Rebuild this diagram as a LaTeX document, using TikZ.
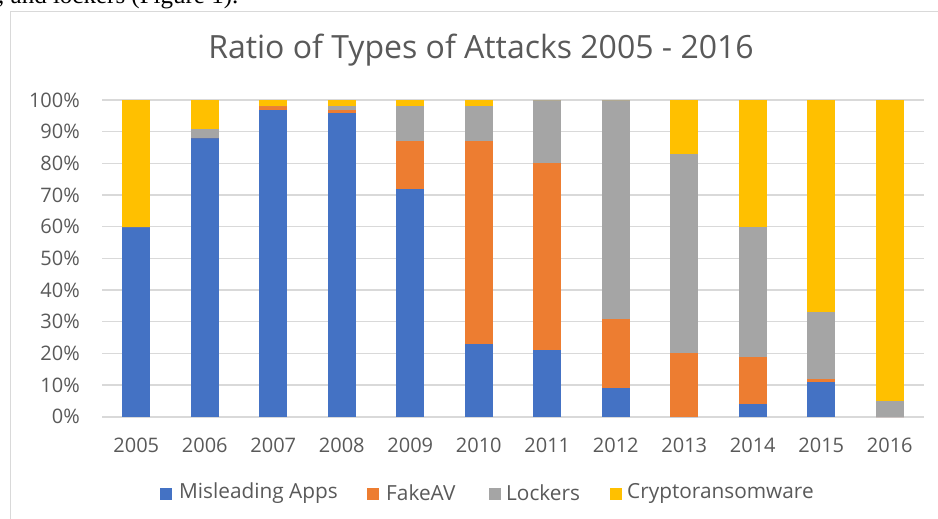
\documentclass[tikz,border=0pt]{standalone}
\usepackage{fontspec}
\setmainfont{Open Sans}
\newfontfamily\serifface{Liberation Serif}
\definecolor{cblue}{HTML}{4472C4}
\definecolor{corange}{HTML}{ED7D31}
\definecolor{cgray}{HTML}{A5A5A5}
\definecolor{cyellow}{HTML}{FFC000}
\definecolor{ctext}{HTML}{595959}
\definecolor{cgrid}{HTML}{D9D9D9}
\tikzset{
  gridline/.style={draw=cgrid, line width=1.6pt},
  framebox/.style={draw=cgrid, line width=1.6pt},
  axlabel/.style={text=ctext, font=\fontsize{20}{24}\selectfont, inner sep=0pt},
  titlelabel/.style={text=ctext, font=\fontsize{32}{38}\selectfont, inner sep=0pt},
  legtext/.style={text=ctext, font=\fontsize{20.8}{24}\selectfont, inner sep=0pt, anchor=west},
  legbox/.style={minimum size=12pt, inner sep=0pt, draw=none},
}
\begin{document}
\begin{tikzpicture}[x=1pt,y=-1pt]
\useasboundingbox (0,0) rectangle (938,519);
% surrounding text, cut off at top
\node[anchor=base west, inner sep=0pt, font=\serifface\fontsize{25}{28}\selectfont] (prev) at (-2,4) {, and lockers (Figure 1).};
% frame
\draw[framebox] (10.5,11.5) rectangle (960,540);
% title
\node[titlelabel] (title) at (481,50) {Ratio of Types of Attacks 2005 - 2016};
% gridlines and y labels
\foreach \k in {0,...,10}{
  \pgfmathsetmacro{\yy}{416.7-31.67*\k}
  \coordinate (gl\k) at (102,\yy);
  \coordinate (gr\k) at (924,\yy);
  \draw[gridline] (gl\k) -- (gr\k);
  \pgfmathtruncatemacro{\pc}{10*\k}
  \node[axlabel, anchor=east] (yl\k) at (80,\yy) {\pc\%};
}
% bars: year, misleading, fakeav, lockers, crypto
\foreach \i/\yr/\ma/\fa/\lo/\cr in {
  0/2005/60/0/0/40,
  1/2006/88/0/3/9,
  2/2007/97/1/0/2,
  3/2008/96/1/1/2,
  4/2009/72/15/11/2,
  5/2010/23/64/11/2,
  6/2011/21/59/20/0,
  7/2012/9/22/69/0,
  8/2013/0/20/63/17,
  9/2014/4/15/41/40,
  10/2015/11/1/21/67,
  11/2016/0/0/5/95}{
  \pgfmathsetmacro{\cx}{102+68.5*(\i+0.5)}
  \pgfmathsetmacro{\ya}{416.7}
  \pgfmathsetmacro{\yb}{416.7-3.167*\ma}
  \pgfmathsetmacro{\yc}{416.7-3.167*(\ma+\fa)}
  \pgfmathsetmacro{\yd}{416.7-3.167*(\ma+\fa+\lo)}
  \pgfmathsetmacro{\ye}{416.7-3.167*(\ma+\fa+\lo+\cr)}
  \fill[cblue]   (\cx-14,\ya) rectangle (\cx+14,\yb);
  \fill[corange] (\cx-14,\yb) rectangle (\cx+14,\yc);
  \fill[cgray]   (\cx-14,\yc) rectangle (\cx+14,\yd);
  \fill[cyellow] (\cx-14,\yd) rectangle (\cx+14,\ye);
  \node[axlabel] (xl\i) at (\cx,445) {\yr};
}
% legend
\node[legbox, fill=cblue] (lb1) at (166,494) {};
\node[legtext] (lt1) at (179,493) {Misleading Apps};
\node[legbox, fill=corange] (lb2) at (373,494) {};
\node[legtext] (lt2) at (386,493) {FakeAV};
\node[legbox, fill=cgray] (lb3) at (494.5,494) {};
\node[legtext] (lt3) at (506,493) {Lockers};
\node[legbox, fill=cyellow] (lb4) at (616,494) {};
\node[legtext] (lt4) at (627,493) {Cryptoransomware};
\end{tikzpicture}
\end{document}
